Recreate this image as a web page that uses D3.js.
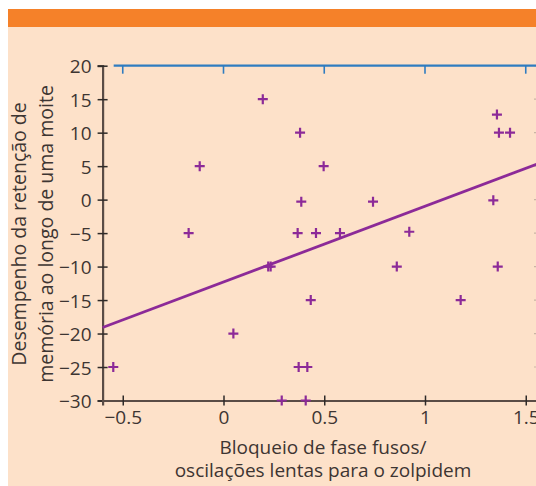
<!DOCTYPE html>
<html>
<head>
<meta charset="utf-8">
<script src="https://cdn.jsdelivr.net/npm/d3@7"></script>
<style>
  body { margin: 0; background: #fff; }
  svg { display: block; font-family: "Open Sans", Lato, sans-serif; }
</style>
</head>
<body>
<div id="chart"></div>
<script>
// data
const xVals = [0.195, 0.38, -0.118, 0.497, 0.386, -0.173, 0.368, 0.459, 0.578, 1.357, 1.367, 1.422, 0.742, 1.339,
  0.922, 0.222, 0.234, 0.433, 0.049, -0.547, 0.373, 0.416, 0.289, 0.408, 0.86, 1.361, 1.177];
const yVals = [15, 10, 5, 5, -0.3, -5, -5, -5, -5, 12.7, 10, 10, -0.3, -0.1,
  -4.8, -10, -10, -15, -20, -25, -25, -25, -30, -30, -10, -10, -15];
const fitX = [-0.6, 1.6];
const fitY = [-19.1, 5.8];
const xTicks = [-0.5, 0, 0.5, 1, 1.5];
const yTicks = [20, 15, 10, 5, 0, -5, -10, -15, -20, -25, -30];
const xTitle = ["Bloqueio de fase fusos/", "oscilações lentas para o zolpidem"];
const yTitle = ["Desempenho da retenção de", "memória ao longo de uma moite"];

const width = 536, height = 486;
const purple = "#8c2a98", ink = "#3d3532", axisCol = "#5a4c46";

const svg = d3.select("#chart").append("svg").attr("width", width).attr("height", height);

// panel
svg.append("rect").attr("x", 8).attr("y", 9).attr("width", width - 8).attr("height", height - 9).attr("fill", "#fde1c9");
svg.append("rect").attr("x", 8).attr("y", 9).attr("width", width - 8).attr("height", 18).attr("fill", "#f58129");

const x = d3.scaleLinear().domain([-0.6, 1.6]).range([102.6, 545.9]);
const y = d3.scaleLinear().domain([-30, 20]).range([400.5, 65.7]);

// faint right axis ticks at the edge
svg.append("g")
  .selectAll("line")
  .data(yTicks)
  .join("line")
  .attr("x1", 534).attr("x2", 537)
  .attr("y1", (d) => y(d)).attr("y2", (d) => y(d))
  .attr("stroke", "#c9b5a5").attr("stroke-width", 1.2);

// blue top axis
const topAxis = svg.append("g").attr("transform", `translate(0, ${y(20)})`);
topAxis.append("line")
  .attr("x1", x(-0.545)).attr("x2", width)
  .attr("stroke", "#2f7cc0").attr("stroke-width", 2.2);
topAxis.selectAll(".tt")
  .data(xTicks)
  .join("line")
  .attr("class", "tt")
  .attr("x1", (d) => x(d)).attr("x2", (d) => x(d))
  .attr("y1", 0).attr("y2", 8)
  .attr("stroke", "#2f7cc0").attr("stroke-width", 1.6);

// y axis
const yAxis = svg.append("g")
  .attr("transform", `translate(${x(-0.6)}, 0)`)
  .call(d3.axisLeft(y).tickValues(yTicks).tickSize(5).tickPadding(6));
yAxis.select(".domain").attr("stroke", axisCol).attr("stroke-width", 2.2);
yAxis.selectAll(".tick line").attr("x1", 5).attr("x2", -5).attr("stroke", "#2e2a28").attr("stroke-width", 1.5);
yAxis.selectAll(".tick text").attr("fill", ink).attr("font-size", 19).attr("font-family", "'Open Sans', sans-serif").attr("dy", "0.38em");

// x axis
const xAxis = svg.append("g")
  .attr("transform", `translate(0, ${y(-30)})`)
  .call(d3.axisBottom(x).tickValues(xTicks).tickSize(5).tickFormat(d3.format("")));
xAxis.select(".domain").attr("stroke", axisCol).attr("stroke-width", 2.2);
xAxis.selectAll(".tick line").attr("y1", -5).attr("y2", 5).attr("stroke", "#2e2a28").attr("stroke-width", 1.5);
xAxis.selectAll(".tick text").attr("y", 10).attr("fill", ink).attr("font-size", 19).attr("font-family", "'Open Sans', sans-serif");

// fit line
svg.append("path")
  .datum(fitX.map((d, i) => [d, fitY[i]]))
  .attr("fill", "none")
  .attr("stroke", purple)
  .attr("stroke-width", 2.8)
  .attr("d", d3.line().x((d) => x(d[0])).y((d) => y(d[1])));

// points as plus signs
const pts = svg.append("g")
  .selectAll("g")
  .data(xVals.map((d, i) => [d, yVals[i]]))
  .join("g")
  .attr("transform", (d) => `translate(${x(d[0])}, ${y(d[1])})`);
pts.append("path")
  .attr("d", "M-5,0H5M0,-5V5")
  .attr("stroke", purple)
  .attr("stroke-width", 2.2);

// titles
svg.append("text")
  .attr("x", 323).attr("y", 454)
  .attr("text-anchor", "middle").attr("fill", ink).attr("font-size", 19)
  .selectAll("tspan")
  .data(xTitle)
  .join("tspan")
  .attr("x", 323)
  .attr("dy", (d, i) => (i ? 23 : 0))
  .text((d) => d);

svg.append("text")
  .attr("transform", "translate(26, 234) rotate(-90)")
  .attr("text-anchor", "middle").attr("fill", ink).attr("font-size", 19.5)
  .selectAll("tspan")
  .data(yTitle)
  .join("tspan")
  .attr("x", 0)
  .attr("dy", (d, i) => (i ? 27 : 0))
  .text((d) => d);
</script>
</body>
</html>
